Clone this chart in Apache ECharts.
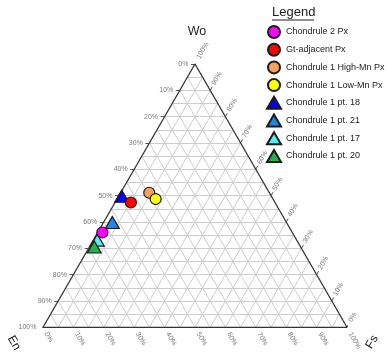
<!DOCTYPE html>
<html><head><meta charset="utf-8">
<script src="https://cdn.jsdelivr.net/npm/echarts@6/dist/echarts.min.js"></script>
<style>html,body{margin:0;padding:0;background:#fff}#c{width:386px;height:356px}</style>
</head><body><div id="c"></div>
<script>
// ---- data ----
const axisNames = ['Wo', 'En', 'Fs'];
const gridValues = [5,10,15,20,25,30,35,40,45,50,55,60,65,70,75,80,85,90,95];
const tickValues = [0,10,20,30,40,50,60,70,80,90,100];
const tickLabels = ['0%','10%','20%','30%','40%','50%','60%','70%','80%','90%','100%'];
const seriesNames = ['Chondrule 2 Px','Gt-adjacent Px','Chondrule 1 High-Mn Px','Chondrule 1 Low-Mn Px',
  'Chondrule 1 pt. 18','Chondrule 1 pt. 21','Chondrule 1 pt. 17','Chondrule 1 pt. 20'];
// each point: [Wo, En, Fs] in %
const chondrule2Px   = [[36.0, 62.5, 1.5]];
const gtAdjacentPx   = [[47.4, 47.4, 5.2]];
const chondrule1HighMn = [[51.1, 39.5, 9.4]];
const chondrule1LowMn  = [[48.7, 38.6, 12.7]];
const chondrule1Pt18 = [[49.8, 49.2, 1.0]];
const chondrule1Pt21 = [[39.8, 57.3, 2.9]];
const chondrule1Pt17 = [[33.1, 65.6, 1.3]];
const chondrule1Pt20 = [[30.5, 67.9, 1.6]];

// ---- helpers ----
const S = Math.sqrt(3) / 2;
const PX = 1 / 304; // data units per pixel
function xy(wo, fs) { return [(fs + wo / 2) / 100, (wo / 100) * S]; }
function add(p, d, len) { return [p[0] + d[0] * len * PX, p[1] + d[1] * len * PX]; }

const gridSegs = [];
gridValues.forEach(v => {
  gridSegs.push({coords: [xy(v, 0), xy(v, 100 - v)]});           // Wo const
  gridSegs.push({coords: [xy(0, v), xy(100 - v, v)]});           // Fs const
  gridSegs.push({coords: [xy(0, 100 - v), xy(100 - v, 0)]});     // En const
});
const edgeSegs = [
  {coords: [xy(100, 0), xy(0, 0)]},
  {coords: [xy(0, 0), xy(0, 100)]},
  {coords: [xy(0, 100), xy(100, 0)]}
];
const dirEn = [-1, 0], dirFs = [0.5, -S], dirWo = [0.5, S];
const TL = 4, LD = 6.5;
const tickSegs = [];
const enLab = [], fsLab = [], woLab = [];
tickValues.forEach((v, i) => {
  const pEn = xy(100 - v, 0), pFs = xy(0, v), pWo = xy(v, 100 - v);
  tickSegs.push({coords: [pEn, add(pEn, dirEn, TL)]});
  tickSegs.push({coords: [pFs, add(pFs, dirFs, TL)]});
  tickSegs.push({coords: [pWo, add(pWo, dirWo, TL)]});
  enLab.push({name: tickLabels[i], value: add(pEn, dirEn, LD)});
  fsLab.push({name: tickLabels[i], value: add(pFs, dirFs, LD)});
  woLab.push({name: tickLabels[i], value: add(pWo, dirWo, LD)});
});

const FONT = 'Liberation Sans, Arial, sans-serif';
function labelSeries(data, align, rotate) {
  return {
    type: 'scatter', data, symbolSize: 0.1, silent: true, clip: false,
    itemStyle: {color: 'transparent'}, z: 5,
    labelLayout: {hideOverlap: false},
    label: {show: true, position: [0, 0], formatter: '{b}', align, verticalAlign: 'middle',
      rotate, fontSize: 7, color: '#555', fontFamily: FONT}
  };
}

const pointDefs = [
  {name: seriesNames[4], data: chondrule1Pt18, symbol: 'triangle', color: '#0000ff'},
  {name: seriesNames[5], data: chondrule1Pt21, symbol: 'triangle', color: '#1c86ee'},
  {name: seriesNames[6], data: chondrule1Pt17, symbol: 'triangle', color: '#55eef2'},
  {name: seriesNames[7], data: chondrule1Pt20, symbol: 'triangle', color: '#22b24c'},
  {name: seriesNames[0], data: chondrule2Px, symbol: 'circle', color: '#ff00ff'},
  {name: seriesNames[1], data: gtAdjacentPx, symbol: 'circle', color: '#ff0000'},
  {name: seriesNames[2], data: chondrule1HighMn, symbol: 'circle', color: '#f7a15a'},
  {name: seriesNames[3], data: chondrule1LowMn, symbol: 'circle', color: '#ffff00'}
];
const pointSeries = pointDefs.map((d, i) => ({
  type: 'scatter', name: d.name, symbol: d.symbol, clip: false,
  symbolSize: d.symbol === 'circle' ? 11 : [14, 12],
  data: d.data.map(p => xy(p[0], p[2])),
  itemStyle: {color: d.color, borderColor: '#1a1a1a', borderWidth: 1.2, opacity: 1},
  z: 10 + i
}));

const chart = echarts.init(document.getElementById('c'), null, {renderer: 'canvas'});
chart.setOption({
  animation: false,
  backgroundColor: '#fff',
  grid: {left: 43, top: 64, width: 304, height: 304 * S},
  xAxis: {type: 'value', min: 0, max: 1, show: false},
  yAxis: {type: 'value', min: 0, max: S, show: false},
  legend: {
    data: seriesNames, orient: 'vertical', left: 266, top: 25, padding: 0,
    itemWidth: 14, itemHeight: 12, itemGap: 3.7,
    textStyle: {fontSize: 9, color: '#222', fontFamily: FONT}
  },
  graphic: [
    {type: 'text', x: 197, y: 32, style: {text: axisNames[0], fontSize: 12.5, fontFamily: FONT, fill: '#222', align: 'center', verticalAlign: 'middle'}},
    {type: 'text', x: 14, y: 343, rotation: -Math.PI / 3, style: {text: axisNames[1], fontSize: 12, fontFamily: FONT, fill: '#222', align: 'center', verticalAlign: 'middle'}},
    {type: 'text', x: 372, y: 342, rotation: Math.PI / 3, style: {text: axisNames[2], fontSize: 12, fontFamily: FONT, fill: '#222', align: 'center', verticalAlign: 'middle'}},
    {type: 'text', x: 272, y: 12.5, style: {text: 'Legend', fontSize: 13, fontFamily: FONT, fill: '#222', align: 'left', verticalAlign: 'middle'}},
    {type: 'line', shape: {x1: 272, y1: 20, x2: 314, y2: 20}, style: {stroke: '#222', lineWidth: 1}}
  ],
  series: [
    {type: 'lines', coordinateSystem: 'cartesian2d', data: gridSegs, silent: true, z: 1,
      lineStyle: {color: '#cdcdcd', width: 1, opacity: 1}},
    {type: 'lines', coordinateSystem: 'cartesian2d', data: tickSegs, silent: true, z: 2,
      lineStyle: {color: '#555', width: 1, opacity: 1}},
    {type: 'lines', coordinateSystem: 'cartesian2d', data: edgeSegs, silent: true, z: 3,
      lineStyle: {color: '#333', width: 1.3, opacity: 1}},
    labelSeries(enLab, 'right', 0),
    labelSeries(fsLab, 'left', -60),
    labelSeries(woLab, 'left', 60),
    ...pointSeries
  ]
});
</script></body></html>
